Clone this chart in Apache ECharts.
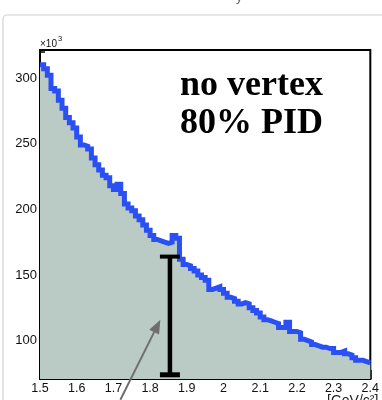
<!DOCTYPE html>
<html>
<head>
<meta charset="utf-8">
<script src="https://cdn.jsdelivr.net/npm/echarts@6/dist/echarts.min.js"></script>
<style>
  html, body { margin: 0; padding: 0; background: #fff; }
  #chart { width: 382px; height: 400px; }
</style>
</head>
<body>
<div id="chart"></div>
<script>
// Invariant-mass histogram, 0.01 GeV/c^2 bins from 1.50 to 2.40 (counts in units of 10^3)
const binLow = 1.5;
const binWidth = 0.01;
const counts = [
  310, 307, 302, 292, 290, 283, 277, 270, 266, 262,
  255, 249, 248, 246, 239, 234, 230, 226, 224, 218,
  215, 219, 212, 204, 201, 199, 195, 192, 188, 184,
  180, 177, 176, 175, 174, 175, 180, 178, 162, 158,
  157, 155, 153, 150, 148, 146, 139, 140, 141, 139,
  136, 133, 132, 130, 128, 129, 128, 125, 123, 121,
  118, 116, 115, 114, 113, 110, 110, 114, 107, 107,
  106, 101, 100, 99, 97, 96, 95, 95, 94, 94,
  91, 91, 92, 90, 89, 87, 85, 85, 84, 83
];

// Axis ticks and labels
const xMajor = [1.5, 1.6, 1.7, 1.8, 1.9, 2.0, 2.1, 2.2, 2.3, 2.4];
const xMinor = [1.52, 1.54, 1.56, 1.58, 1.62, 1.64, 1.66, 1.68, 1.72, 1.74, 1.76, 1.78,
                1.82, 1.84, 1.86, 1.88, 1.92, 1.94, 1.96, 1.98, 2.02, 2.04, 2.06, 2.08,
                2.12, 2.14, 2.16, 2.18, 2.22, 2.24, 2.26, 2.28, 2.32, 2.34, 2.36, 2.38];
const yMajor = [100, 150, 200, 250, 300];
const yMinor = [80, 90, 110, 120, 130, 140, 160, 170, 180, 190, 210, 220, 230, 240,
                260, 270, 280, 290, 310, 320];

// Signal-window error bar: [mass, low, high]
const errorBar = [[1.854, 74, 164]];
// Annotation arrow: [x from, y from, x to, y to]
const arrow = [[1.719, 55, 1.828, 116]];

const texts = { line1: 'no vertex', line2: '80% PID', units: '[GeV/c²]' };

// Stepped outline: one point per bin low edge, plus the last upper edge
const stepData = counts.map((c, i) => [+(binLow + i * binWidth).toFixed(2), c]);
stepData.push([+(binLow + counts.length * binWidth).toFixed(2), counts[counts.length - 1]]);

const chart = echarts.init(document.getElementById('chart'), null, { renderer: 'canvas' });

const labelFont = { fontFamily: 'Liberation Sans, Arial, sans-serif', color: '#111' };

chart.setOption({
  animation: false,
  backgroundColor: '#fff',
  grid: {
    left: 40, top: 50, right: 4.5, bottom: 21,
    show: true, borderColor: '#000', borderWidth: 2, backgroundColor: 'transparent'
  },
  xAxis: [
    {
      type: 'value', min: 1.5, max: 2.4,
      axisLine: { show: true, lineStyle: { color: '#000', width: 2 } },
      axisTick: { show: true, inside: true, length: 9, customValues: xMajor,
                  lineStyle: { color: '#000', width: 1.5 } },
      axisLabel: { show: true, customValues: xMajor, margin: 3, fontSize: 12.5,
                   ...labelFont, formatter: v => String(+v.toFixed(1)) },
      splitLine: { show: false }
    },
    {
      type: 'value', min: 1.5, max: 2.4, position: 'bottom',
      axisLine: { show: false },
      axisTick: { show: true, inside: true, length: 5, customValues: xMinor,
                  lineStyle: { color: '#000', width: 1.5 } },
      axisLabel: { show: false },
      splitLine: { show: false }
    }
  ],
  yAxis: [
    {
      type: 'value', min: 70.8, max: 321.3,
      axisLine: { show: true, lineStyle: { color: '#000', width: 2 } },
      axisTick: { show: true, inside: true, length: 9, customValues: yMajor,
                  lineStyle: { color: '#000', width: 1.5 } },
      axisLabel: { show: true, customValues: yMajor, margin: 3, fontSize: 13, ...labelFont },
      splitLine: { show: false }
    },
    {
      type: 'value', min: 70.8, max: 321.3, position: 'left',
      axisLine: { show: false },
      axisTick: { show: true, inside: true, length: 5, customValues: yMinor,
                  lineStyle: { color: '#000', width: 1.5 } },
      axisLabel: { show: false },
      splitLine: { show: false }
    }
  ],
  series: [
    {
      type: 'line',
      data: stepData,
      step: 'end',
      symbol: 'none',
      lineStyle: { color: '#2a4ff2', width: 5, join: 'miter' },
      areaStyle: { color: '#bacbc5', opacity: 1, origin: 'start' },
      z: 2
    },
    {
      type: 'custom',
      data: errorBar,
      encode: { x: 0, y: [1, 2] },
      z: 5,
      renderItem: (params, api) => {
        const x = api.value(0);
        const top = api.coord([x, api.value(2)]);
        const bot = api.coord([x, api.value(1)]);
        const hw = 10;
        return {
          type: 'group',
          children: [
            { type: 'line', shape: { x1: top[0], y1: top[1], x2: bot[0], y2: bot[1] },
              style: { stroke: '#000', lineWidth: 4.5 } },
            { type: 'line', shape: { x1: top[0] - hw, y1: top[1], x2: top[0] + hw, y2: top[1] },
              style: { stroke: '#000', lineWidth: 4 } },
            { type: 'line', shape: { x1: bot[0] - hw, y1: bot[1], x2: bot[0] + hw, y2: bot[1] },
              style: { stroke: '#000', lineWidth: 5 } }
          ]
        };
      }
    },
    {
      type: 'custom',
      data: arrow,
      encode: { x: [0, 2], y: [1, 3] },
      clip: false,
      z: 6,
      renderItem: (params, api) => {
        const p1 = api.coord([api.value(0), api.value(1)]);
        const p2 = api.coord([api.value(2), api.value(3)]);
        const dx = p2[0] - p1[0], dy = p2[1] - p1[1];
        const len = Math.sqrt(dx * dx + dy * dy);
        const ux = dx / len, uy = dy / len;
        const headLen = 14, headHalf = 5.5;
        const bx = p2[0] - ux * headLen, by = p2[1] - uy * headLen;
        return {
          type: 'group',
          children: [
            { type: 'line', shape: { x1: p1[0], y1: p1[1], x2: bx, y2: by },
              style: { stroke: '#6e6e6e', lineWidth: 2 } },
            { type: 'polygon',
              shape: { points: [[p2[0], p2[1]],
                                [bx - uy * headHalf, by + ux * headHalf],
                                [bx + uy * headHalf, by - ux * headHalf]] },
              style: { fill: '#6e6e6e' } }
          ]
        };
      }
    }
  ],
  graphic: [
    { type: 'rect', shape: { x: 3, y: 15, width: 420, height: 420, r: 4 },
      style: { fill: 'none', stroke: '#d2d2d2', lineWidth: 1.2 }, z: -1 },
    { type: 'text', left: 236, top: -9,
      style: { text: 'y', fontSize: 13, fill: '#666', fontFamily: 'Liberation Sans, Arial, sans-serif' } },
    { type: 'text', left: 40, top: 39,
      style: { text: '×10', fontSize: 10, fill: '#111', fontFamily: 'Liberation Sans, Arial, sans-serif' } },
    { type: 'text', left: 58, top: 35,
      style: { text: '3', fontSize: 7.5, fill: '#111', fontFamily: 'Liberation Sans, Arial, sans-serif' } },
    { type: 'text', left: 180, top: 68,
      style: { text: texts.line1, fontSize: 36, fontWeight: 'bold', fill: '#000',
               fontFamily: 'Liberation Serif, Times New Roman, serif' } },
    { type: 'text', left: 180, top: 106,
      style: { text: texts.line2, fontSize: 36, fontWeight: 'bold', fill: '#000',
               fontFamily: 'Liberation Serif, Times New Roman, serif' } },
    { type: 'text', left: 327, top: 394,
      style: { text: texts.units, fontSize: 14, fill: '#222',
               fontFamily: 'Liberation Sans, Arial, sans-serif' } }
  ]
});
</script>
</body>
</html>
